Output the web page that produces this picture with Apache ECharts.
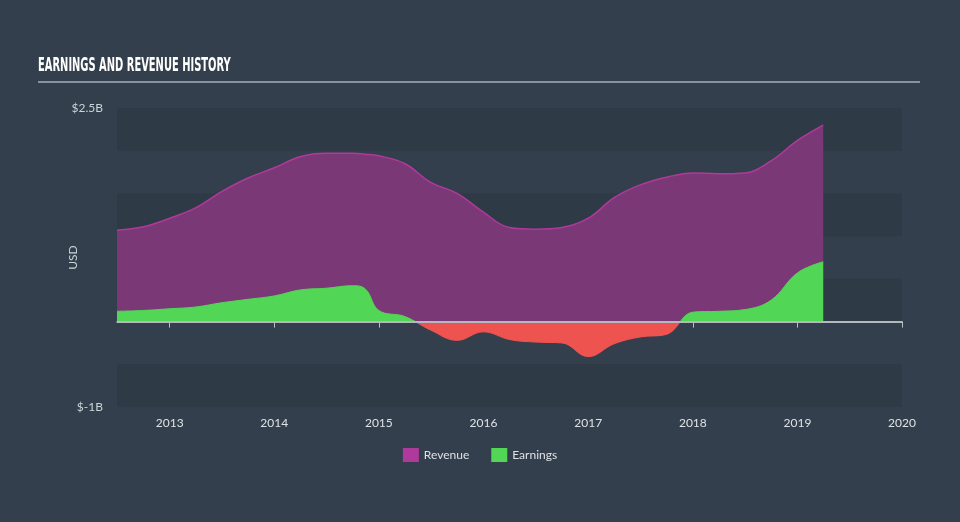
<!DOCTYPE html>
<html>
<head>
<meta charset="utf-8">
<script src="https://cdn.jsdelivr.net/npm/echarts@6/dist/echarts.min.js"></script>
<style>
html,body{margin:0;padding:0;background:#333f4c;}
#c{width:960px;height:522px;}
</style>
</head>
<body>
<div id="c"></div>
<script>
const dates = ['2012-07-01','2012-10-01','2013-01-01','2013-04-01','2013-07-01','2013-10-01',
  '2014-01-01','2014-04-01','2014-07-01','2014-10-01','2014-11-15','2015-01-01','2015-04-01',
  '2015-07-01','2015-10-01','2016-01-01','2016-04-01','2016-07-01','2016-10-01','2017-01-01',
  '2017-04-01','2017-07-01','2017-10-01','2018-01-01','2018-04-01','2018-07-01','2018-10-01',
  '2019-01-01','2019-04-01'];
const revenue = [1.07,1.11,1.21,1.33,1.52,1.68,1.80,1.93,1.97,1.97,1.96,1.94,1.85,
  1.63,1.50,1.28,1.10,1.08,1.10,1.21,1.45,1.60,1.69,1.74,1.73,1.74,1.88,2.12,2.30];
const earnings = [0.12,0.13,0.15,0.17,0.22,0.26,0.30,0.37,0.39,0.42,0.38,0.13,0.06,
  -0.10,-0.22,-0.12,-0.21,-0.24,-0.25,-0.41,-0.26,-0.18,-0.15,0.11,0.12,0.14,0.25,0.57,0.70];
const yTicks = {'2.5':'$2.5B','-1':'$-1B'};

const chart = echarts.init(document.getElementById('c'));
const font = 'Lato';
chart.setOption({
  backgroundColor: '#333f4c',
  animation: false,
  graphic: [{
    type: 'text', left: 38, top: 57, scaleX: 0.58,
    style: {text: 'EARNINGS AND REVENUE HISTORY', fill: '#ffffff',
      font: 'bold 19px "DejaVu Sans Condensed"'}
  }, {
    type: 'line', shape: {x1: 38, y1: 82, x2: 920, y2: 82},
    style: {stroke: '#a9b0b8', lineWidth: 1.5}
  }],
  legend: {
    bottom: 55, left: 'center', itemWidth: 16, itemHeight: 14, itemGap: 22, icon: 'rect',
    textStyle: {color: '#dde2e6', fontSize: 12, fontFamily: font},
    data: [{name: 'Revenue', itemStyle: {color: '#b0399c'}}, {name: 'Earnings', itemStyle: {color: '#52d655'}}]
  },
  grid: {left: 117, right: 58, top: 108, bottom: 115},
  xAxis: {
    type: 'time', min: '2012-07-01', max: '2020-01-01', splitNumber: 8,
    axisLine: {lineStyle: {color: '#b8c2cc', width: 1.5}},
    axisTick: {show: true, length: 6, lineStyle: {color: '#b8c2cc'}},
    axisLabel: {color: '#dde2e6', fontSize: 12, fontFamily: font, formatter: '{yyyy}', margin: 10, showMaxLabel: true},
    splitLine: {show: false}
  },
  yAxis: {
    type: 'value', min: -1, max: 2.5, interval: 0.5,
    name: 'USD', nameLocation: 'middle', nameGap: 38, nameMoveOverlap: false,
    nameTextStyle: {color: '#ccd3d9', fontSize: 12, fontFamily: font},
    axisLine: {show: false}, axisTick: {show: false},
    axisLabel: {color: '#ccd3d9', fontSize: 12, fontFamily: font, margin: 14,
      formatter: v => yTicks[String(v)] || ''},
    splitLine: {show: false},
    splitArea: {show: true, areaStyle: {color: ['rgba(30,40,52,0.22)', 'rgba(0,0,0,0)']}}
  },
  visualMap: {
    show: false, type: 'piecewise', seriesIndex: 1, dimension: 1,
    pieces: [{min: -5, max: 0, color: '#ef5350'}, {min: 0, max: 5, color: '#52d655'}]
  },
  series: [
    {
      name: 'Revenue', type: 'line', smooth: 0.4, symbol: 'none',
      data: dates.map((d, i) => [d, revenue[i]]),
      itemStyle: {color: '#b0399c'},
      lineStyle: {color: '#b0399c', width: 1.5},
      areaStyle: {color: '#7a3976', opacity: 1}
    },
    {
      name: 'Earnings', type: 'line', smooth: 0.4, symbol: 'none',
      data: dates.map((d, i) => [d, earnings[i]]),
      itemStyle: {color: '#52d655'},
      lineStyle: {width: 1},
      areaStyle: {opacity: 1}
    },
    {
      name: 'zero', type: 'line', data: [], z: 5,
      markLine: {
        silent: true, symbol: 'none', label: {show: false},
        lineStyle: {color: '#b5b9bd', width: 2, type: 'solid'},
        data: [{yAxis: 0}]
      }
    }
  ]
});
</script>
</body>
</html>
